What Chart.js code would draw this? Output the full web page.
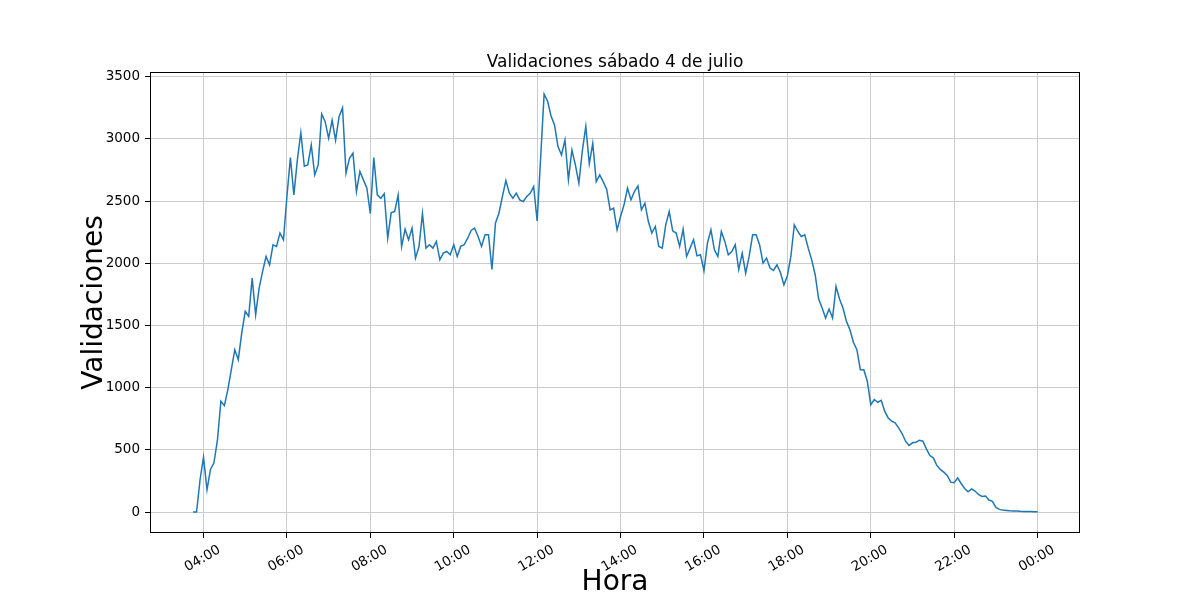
<!DOCTYPE html>
<html>
<head>
<meta charset="utf-8">
<title>Validaciones sábado 4 de julio</title>
<script src="https://cdn.jsdelivr.net/npm/chart.js@4.4.1/dist/chart.umd.min.js"></script>
<style>
  html, body { margin: 0; padding: 0; background: #fff; }
  #wrap { width: 1200px; height: 600px; }
</style>
</head>
<body>
<div id="wrap"><canvas id="chart" width="1200" height="600"></canvas></div>
<script>
// validaciones cada 5 minutos, de 03:45 a 00:00
const chartTitle = 'Validaciones sábado 4 de julio';
const xTitle = 'Hora';
const yTitle = 'Validaciones';

const startMinute = 225;   // 03:45
const stepMinutes = 5;

const validaciones = [
  0, 0, 260,
  440, 180, 343, 396, 578, 891, 856, 985, 1145, 1306, 1225, 1440,
  1614, 1573, 1881, 1587, 1801, 1935, 2055, 1988, 2149, 2135, 2243, 2189,
  2537, 2850, 2550, 2831, 3050, 2780, 2791, 2952, 2711, 2791, 3200, 3139,
  3005, 3150, 2990, 3179, 3250, 2724, 2845, 2885, 2577, 2738, 2671, 2604,
  2400, 2850, 2550, 2523, 2560, 2202, 2408, 2416, 2550, 2135, 2274, 2189,
  2283, 2042, 2135, 2400, 2122, 2149, 2122, 2176, 2028, 2082, 2095, 2069,
  2150, 2055, 2136, 2149, 2202, 2264, 2283, 2216, 2136, 2229, 2229, 1950,
  2323, 2403, 2537, 2665, 2563, 2523, 2563, 2510, 2497, 2537, 2563, 2617,
  2340, 2845, 3360, 3305, 3185, 3113, 2938, 2871, 2992, 2671, 2911, 2791,
  2644, 2904, 3100, 2800, 2965, 2657, 2711, 2657, 2596, 2430, 2443, 2269,
  2376, 2470, 2604, 2510, 2577, 2623, 2430, 2483, 2336, 2243, 2296, 2135,
  2122, 2309, 2416, 2261, 2243, 2135, 2274, 2055, 2122, 2189, 2060, 2069,
  1940, 2162, 2269, 2109, 2055, 2256, 2176, 2069, 2095, 2149, 1950, 2082,
  1921, 2055, 2229, 2230, 2150, 2002, 2042, 1962, 1943, 1988, 1926, 1827,
  1900, 2055, 2310, 2256, 2216, 2229, 2122, 2028, 1908, 1713, 1640, 1560,
  1632, 1560, 1814, 1713, 1640, 1533, 1466, 1365, 1306, 1145, 1145, 1052,
  864, 905, 883, 899, 811, 757, 731, 717, 677, 632, 570, 535,
  557, 562, 578, 570, 508, 455, 436, 375, 343, 321, 295, 241,
  236, 276, 230, 190, 163, 187, 169, 142, 126, 129, 97, 86,
  38, 22, 16, 13, 10, 8, 8, 6, 5, 5, 4, 3,
  2
];

const xTickMinutes = [240, 360, 480, 600, 720, 840, 960, 1080, 1200, 1320, 1440];
const xTickLabels = ['04:00', '06:00', '08:00', '10:00', '12:00', '14:00', '16:00', '18:00', '20:00', '22:00', '00:00'];
const yTicks = [0, 500, 1000, 1500, 2000, 2500, 3000, 3500];

const points = validaciones.map((v, i) => ({ x: startMinute + i * stepMinutes, y: v }));

const font = '"DejaVu Sans", sans-serif';

// spines + title + axis titles, matplotlib style
const frame = {
  id: 'frame',
  afterDraw(chart) {
    const { ctx, chartArea: a } = chart;
    ctx.save();
    ctx.strokeStyle = '#000';
    ctx.lineWidth = 1;
    ctx.strokeRect(a.left + 0.5, a.top + 0.5, a.width - 1, a.height - 1);

    ctx.fillStyle = '#000';
    ctx.textAlign = 'center';
    ctx.font = '17px ' + font;
    ctx.textBaseline = 'alphabetic';
    ctx.fillText(chartTitle, (a.left + a.right) / 2, a.top - 5);

    ctx.font = '28px ' + font;
    ctx.textBaseline = 'middle';
    ctx.fillText(xTitle, (a.left + a.right) / 2, 583);

    ctx.translate(95, (a.top + a.bottom) / 2);
    ctx.rotate(-Math.PI / 2);
    ctx.fillText(yTitle, 0, 0);
    ctx.restore();
  }
};

new Chart(document.getElementById('chart'), {
  type: 'line',
  data: {
    datasets: [{
      data: points,
      borderColor: '#1f77b4',
      borderWidth: 1.5,
      pointRadius: 0,
      tension: 0,
      fill: false
    }]
  },
  options: {
    responsive: false,
    animation: false,
    devicePixelRatio: 1,
    layout: { padding: { top: 72, right: 120, left: 0, bottom: 0 } },
    plugins: {
      legend: { display: false },
      tooltip: { enabled: false },
      title: { display: false }
    },
    scales: {
      x: {
        type: 'linear',
        min: 163,
        max: 1501,
        afterFit: s => { s.height = 67; },
        afterBuildTicks: s => { s.ticks = xTickMinutes.map(v => ({ value: v })); },
        grid: { color: '#cccccc', lineWidth: 1, tickColor: '#000', tickLength: 5 },
        border: { display: false },
        ticks: {
          autoSkip: false,
          minRotation: 30,
          maxRotation: 30,
          labelOffset: 16,
          padding: 4,
          color: '#000',
          font: { family: font, size: 13.5 },
          callback: v => xTickLabels[xTickMinutes.indexOf(v)]
        }
      },
      y: {
        min: -168,
        max: 3538,
        afterFit: s => { s.width = 150; },
        afterBuildTicks: s => { s.ticks = yTicks.map(v => ({ value: v })); },
        grid: { color: '#cccccc', lineWidth: 1, tickColor: '#000', tickLength: 5 },
        border: { display: false },
        ticks: {
          padding: 5,
          color: '#000',
          font: { family: font, size: 13.5 },
          callback: v => String(v)
        }
      }
    }
  },
  plugins: [frame]
});
</script>
</body>
</html>
